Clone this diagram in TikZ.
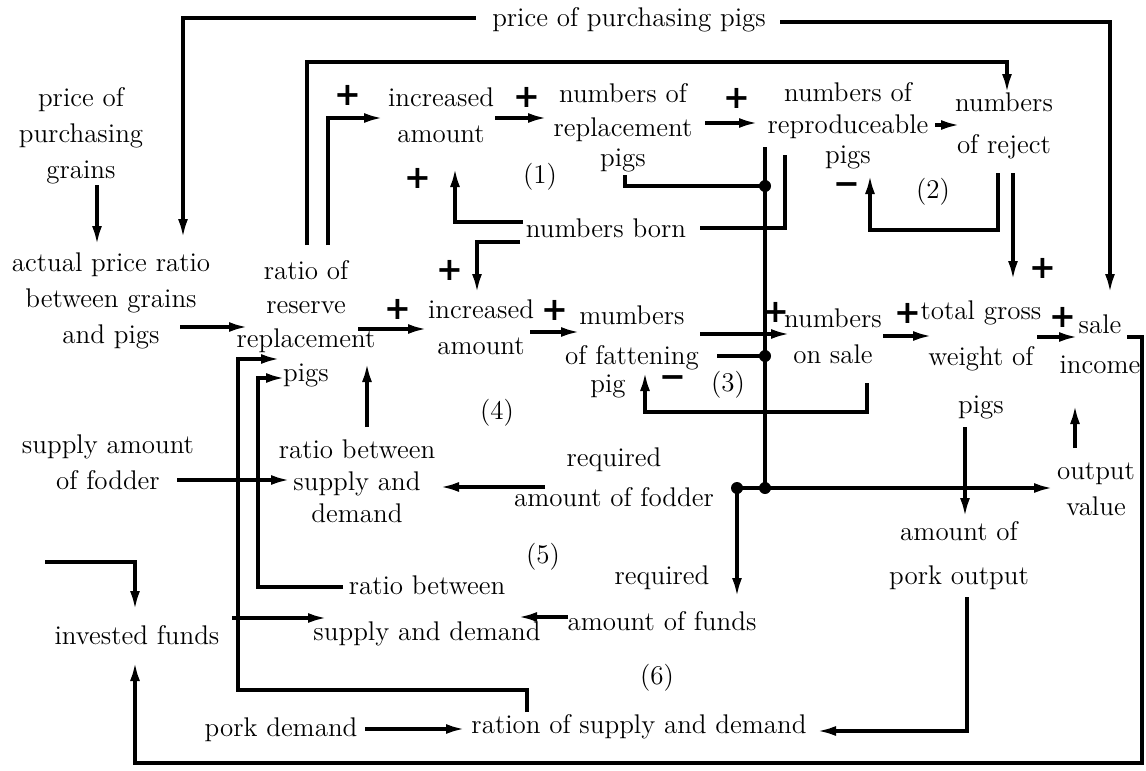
\documentclass[tikz,border=0pt]{standalone}
\usepackage{fontspec}
\usepackage{tikz}
\usetikzlibrary{calc,arrows.meta}
\newfontfamily\signfont{DejaVu Sans}

\begin{document}
\begin{tikzpicture}[x=0.5pt,y=-0.5pt,inner sep=0pt,outer sep=0pt,
    every node/.style={align=center,font=\fontsize{13.5}{18}\selectfont},
    link/.style={line width=1.7pt},
    flow/.style={link,-{Latex[length=9.5pt,width=5pt]}},
    sgn/.style={font=\signfont\bfseries\fontsize{16}{16}\selectfont}]
    \useasboundingbox (0,0) rectangle (1146,771);

    % prices
    \node (pg) at (81, 136) {price of\\purchasing\\grains};
    \node (pp) at (629, 20) {price of purchasing pigs};
    \node (apr) at (111, 301) {actual price ratio\\between grains\\and pigs};

    % loop (1) and (2)
    \node (rrr) at (306, 324) {ratio of\\[-1pt]reserve\\[-1pt]replacement\\[-1pt]pigs};
    \node (ia1) at (441, 115) {increased\\amount};
    \node (nrp) at (623, 128) {numbers of\\[-1pt]replacement\\[-3pt]pigs};
    \node (nrep) at (848, 126) {numbers of\\[-2pt]reproduceable\\[-3pt]pigs};
    \node (nrej) at (1004, 126) {numbers\\[3pt]of reject};
    \node (nb) at (606, 228) {numbers born};

    % loop (3) and (4)
    \node (ia2) at (481, 327) {increased\\amount};
    \node (nfp) at (632, 352) {mumbers\\[2pt]of fattening\\[-4pt]pig\hspace*{24pt}};
    \node (nos) at (833, 336) {numbers\\on sale};
    \node (tgw) at (981, 360) {total gross\\[5pt]weight of\\[6pt]pigs};
    \node (si) at (1100, 344) {sale\\[2pt]income};
    \node (ov) at (1096, 489) {output\\value};

    % fodder and funds
    \node (saf) at (108, 462) {supply amount\\of fodder};
    \node (rbs1) at (357, 481) {ratio between\\[-2pt]supply and\\[-2pt]demand};
    \node (raf) at (614, 477) {required\\[2pt]amount of fodder};
    \node (apo) at (959, 556) {amount of\\[4pt]pork output};
    \node (rafu) at (662, 598) {required\\[5pt]amount of funds};
    \node (rbs2) at (427, 611) {ratio between\\[5pt]supply and demand};
    \node (fund) at (137, 635) {invested funds};
    \node (pd) at (281, 730) {pork demand};
    \node (rsd) at (639, 727) {ration of supply and demand};

    % loop numbers
    \node (l1) at (540, 177) {(1)};
    \node (l2) at (933, 192) {(2)};
    \node (l3) at (728, 385) {(3)};
    \node (l4) at (497, 413) {(4)};
    \node (l5) at (543, 557) {(5)};
    \node (l6) at (657, 678) {(6)};

    % signs
    \node[sgn] (s1) at (348, 95) {+};
    \node[sgn] (s2) at (527, 97) {+};
    \node[sgn] (s3) at (737, 98) {+};
    \node[sgn] (s4) at (418, 178) {+};
    \node[sgn] (s5) at (450, 270) {+};
    \node[sgn] (s6) at (398, 309) {+};
    \node[sgn] (s7) at (555, 310) {+};
    \node[sgn] (s8) at (776, 312) {+};
    \node[sgn] (s9) at (908, 313) {+};
    \node[sgn] (s10) at (1043, 268) {+};
    \node[sgn] (s11) at (1063, 317) {+};
    \node[sgn] (m1) at (847, 189) {−};
    \node[sgn] (m2) at (673, 382) {−};

    % junctions
    \coordinate (j1) at (765, 186);
    \coordinate (j2) at (765, 356);
    \coordinate (j3) at (765, 488);
    \coordinate (j4) at (737, 488);
    \coordinate (fin) at (45, 562);

    % top part
    \draw[flow] ($(pg)+(16,49)$) -- ($(apr)+(-14,-56)$);
    \draw[flow] ($(pp)+(-153,-2)$) -| ($(apr)+(72,-63)$);
    \draw[flow] ($(pp)+(151,2)$) -| ($(si)+(10,-51)$);
    \draw[flow] ($(rrr)+(22,-79)$) |- ($(ia1)+(-58,3)$);
    \draw[flow] ($(rrr)+(1,-79)$) |- ($(nrej)+(3,-64)$) -- ($(nrej)+(3,-33)$);
    \draw[flow] ($(ia1)+(54,3)$) -- ($(nrp)+(-76,-10)$);
    \draw[flow] ($(nrp)+(82,-5)$) -- ($(nrep)+(-90,-3)$);
    \draw[flow] ($(nrep)+(87,-1)$) -- ($(nrej)+(-44,-1)$);
    \draw[flow] ($(nb)+(-83,-6)$) -| ($(ia1)+(14,53)$);
    \draw[link] ($(nrp)+(2,47)$) |- (j1);
    \draw[link] ($(nrep)+(-83,21)$) -- (j3);
    \draw[link] ($(nrep)+(-63,29)$) |- ($(nb)+(94,0)$);
    \draw[flow] ($(nrej)+(-6,47)$) |- ($(nrep)+(22,104)$) -- ($(nrep)+(22,49)$);
    \draw[flow] ($(nrej)+(9,47)$) -- ($(tgw)+(32,-80)$);
    \draw[flow] ($(nb)+(-86,14)$) -| ($(ia2)+(-4,-34)$);

    % middle row
    \draw[flow] ($(apr)+(69,26)$) -- ($(rrr)+(-58,3)$);
    \draw[flow] ($(rrr)+(52,5)$) -- ($(ia2)+(-54,2)$);
    \draw[flow] ($(ia2)+(49,5)$) -- ($(nfp)+(-52,-20)$);
    \draw[flow] ($(nfp)+(68,-18)$) -- ($(nos)+(-43,-2)$);
    \draw[link] ($(nfp)+(85,4)$) -- (j2);
    \draw[flow] ($(nos)+(34,47)$) |- ($(nfp)+(13,60)$) -- ($(nfp)+(13,20)$);
    \draw[flow] ($(nos)+(50,0)$) -- ($(tgw)+(-49,-24)$);
    \draw[flow] ($(tgw)+(56,-23)$) -- ($(si)+(-22,-7)$);
    \draw[flow] ($(ov)+(-21,-41)$) -- ($(si)+(-25,61)$);
    \draw[flow] ($(tgw)+(-16,67)$) -- ($(apo)+(6,-39)$);
    \draw[link] (j4) -- (j3);
    \draw[flow] (j3) -- ($(ov)+(-43,-1)$);
    \draw[flow] (j4) -- ($(rafu)+(75,-1)$);

    % lower part
    \draw[flow] ($(raf)+(-69,10)$) -- ($(rbs1)+(83,6)$);
    \draw[flow] ($(saf)+(69,18)$) -- ($(rbs1)+(-67,-1)$);
    \draw[flow] ($(rbs1)+(10,-54)$) -- ($(rrr)+(61,39)$);
    \draw[flow] ($(rbs2)+(-84,-24)$) -| ($(rrr)+(-48,54)$) -- ($(rrr)+(-21,54)$);
    \draw[flow] ($(rsd)+(-112,-15)$) |- ($(rsd)+(-401,-37)$) |- ($(rrr)+(-26,35)$);
    \draw[flow] ($(fund)+(95,-17)$) -- ($(rbs2)+(-100,7)$);
    \draw[flow] (fin) -| ($(fund)+(-2,-25)$);
    \draw[flow] ($(rafu)+(-94,19)$) -- ($(rbs2)+(91,6)$);
    \draw[flow] ($(pd)+(84,-1)$) -- ($(rsd)+(-174,2)$);
    \draw[flow] ($(apo)+(8,41)$) |- ($(rsd)+(178,4)$);
    \draw[flow] ($(si)+(27,-7)$) -| ($(si)+(42,419)$) -| ($(fund)+(-2,27)$);

    \foreach \j in {j1,j2,j3,j4}
        \fill (\j) circle (3pt);

\end{tikzpicture}
\end{document}
